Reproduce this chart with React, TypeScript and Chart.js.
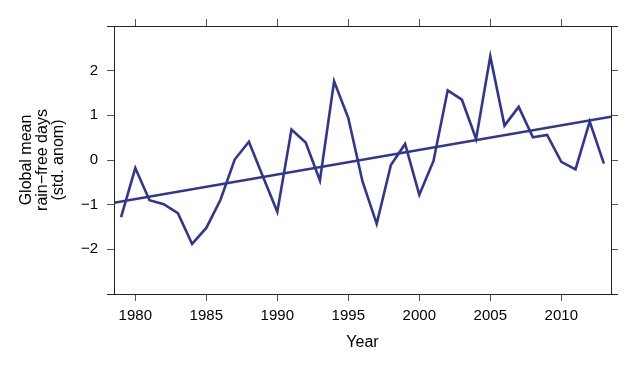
import React, { useEffect, useRef } from "react";
import { Chart, registerables } from "chart.js";

Chart.register(...registerables);

const years = [
  1979, 1980, 1981, 1982, 1983, 1984, 1985, 1986, 1987, 1988, 1989, 1990,
  1991, 1992, 1993, 1994, 1995, 1996, 1997, 1998, 1999, 2000, 2001, 2002,
  2003, 2004, 2005, 2006, 2007, 2008, 2009, 2010, 2011, 2012, 2013,
];
const rainFreeDays = [
  -1.28, -0.18, -0.9, -0.99, -1.19, -1.88, -1.52, -0.89, 0.01, 0.41, -0.38,
  -1.16, 0.68, 0.39, -0.46, 1.76, 0.94, -0.48, -1.43, -0.11, 0.36, -0.78,
  -0.02, 1.56, 1.35, 0.47, 2.32, 0.77, 1.19, 0.51, 0.56, -0.04, -0.21, 0.86,
  -0.08,
];
const xTicks = [1980, 1985, 1990, 1995, 2000, 2005, 2010];
const yTicks = [-2, -1, 0, 1, 2];
const xRange = [1978.5, 2013.5];
const yRange = [-3, 3];
const yTitle = ["Global mean", "rain\u2212free days", "(std. anom)"];
const xTitle = "Year";

function regression(xs: number[], ys: number[]) {
  const n = xs.length;
  const mx = xs.reduce((a, b) => a + b, 0) / n;
  const my = ys.reduce((a, b) => a + b, 0) / n;
  let sxy = 0;
  let sxx = 0;
  for (let i = 0; i < n; i++) {
    sxy += (xs[i] - mx) * (ys[i] - my);
    sxx += (xs[i] - mx) * (xs[i] - mx);
  }
  const b = sxy / sxx;
  return (x: number) => my + b * (x - mx);
}

const LINE = "#313594";
const AXIS = "#222222";
const TICK = "#555555";

const framePlugin = {
  id: "frame",
  afterDraw(chart: any) {
    const { ctx, chartArea } = chart;
    const { left, right, top, bottom } = chartArea;
    ctx.save();
    ctx.strokeStyle = AXIS;
    ctx.lineWidth = 1;
    ctx.beginPath();
    ctx.moveTo(left - 7, top + 0.5);
    ctx.lineTo(right + 7, top + 0.5);
    ctx.moveTo(left - 7, bottom + 0.5);
    ctx.lineTo(right + 7, bottom + 0.5);
    ctx.moveTo(left + 0.5, top);
    ctx.lineTo(left + 0.5, bottom);
    ctx.moveTo(right + 0.5, top);
    ctx.lineTo(right + 0.5, bottom);
    ctx.stroke();
    ctx.restore();
  },
};

export default function App() {
  const ref = useRef<HTMLCanvasElement>(null);

  useEffect(() => {
    document.body.style.margin = "0";
    const trend = regression(years, rainFreeDays);
    const font = { family: "'Liberation Sans', Arial, Helvetica, sans-serif", size: 15 };
    const titleFont = { family: "'Liberation Sans', Arial, Helvetica, sans-serif", size: 16, lineHeight: 1.0 };
    const minus = (v: any) => String(v).replace("-", "\u2212");
    const gridCommon = {
      drawOnChartArea: false,
      drawTicks: true,
      tickLength: 7,
      color: TICK,
      tickColor: TICK,
      lineWidth: 1,
    };
    const chart = new Chart(ref.current as HTMLCanvasElement, {
      type: "line",
      data: {
        datasets: [
          {
            data: years.map((y, i) => ({ x: y, y: rainFreeDays[i] })),
            borderColor: LINE,
            borderWidth: 2.6,
            pointRadius: 0,
            tension: 0,
            fill: false,
          },
          {
            data: xRange.map((x) => ({ x, y: trend(x) })),
            borderColor: LINE,
            borderWidth: 2.6,
            pointRadius: 0,
            tension: 0,
            fill: false,
          },
        ],
      },
      plugins: [framePlugin],
      options: {
        responsive: false,
        animation: false,
        layout: { padding: 0 },
        plugins: {
          legend: { display: false },
          tooltip: { enabled: false },
        },
        scales: {
          x: {
            type: "linear",
            position: "bottom",
            min: xRange[0],
            max: xRange[1],
            afterBuildTicks: (s: any) => {
              s.ticks = xTicks.map((v) => ({ value: v }));
            },
            afterFit: (s: any) => {
              s.height = 73;
            },
            ticks: { font, color: "#000", padding: 6, maxRotation: 0, callback: (v: any) => String(v) },
            grid: gridCommon,
            border: { display: false },
            title: {
              display: true,
              text: xTitle,
              font: { ...titleFont, lineHeight: 1.2 },
              color: "#000",
              padding: { top: 0, bottom: 15 },
            },
          },
          x2: {
            type: "linear",
            position: "top",
            min: xRange[0],
            max: xRange[1],
            afterBuildTicks: (s: any) => {
              s.ticks = xTicks.map((v) => ({ value: v }));
            },
            afterFit: (s: any) => {
              s.height = 26;
            },
            ticks: { display: false },
            grid: gridCommon,
            border: { display: false },
          },
          y: {
            type: "linear",
            position: "left",
            min: yRange[0],
            max: yRange[1],
            afterBuildTicks: (s: any) => {
              s.ticks = yTicks.map((v) => ({ value: v }));
            },
            afterFit: (s: any) => {
              s.width = 114;
            },
            ticks: { font, color: "#000", padding: 9, callback: (v: any) => minus(v) },
            grid: gridCommon,
            border: { display: false },
            title: {
              display: true,
              text: yTitle,
              font: titleFont,
              color: "#000",
              padding: { top: 18.7, bottom: 0 },
            },
          },
          y2: {
            type: "linear",
            position: "right",
            min: yRange[0],
            max: yRange[1],
            afterBuildTicks: (s: any) => {
              s.ticks = yTicks.map((v) => ({ value: v }));
            },
            afterFit: (s: any) => {
              s.width = 30;
            },
            ticks: { display: false },
            grid: gridCommon,
            border: { display: false },
          },
        },
      },
    } as any);
    return () => chart.destroy();
  }, []);

  return <canvas ref={ref} width={641} height={367} style={{ display: "block" }} />;
}
